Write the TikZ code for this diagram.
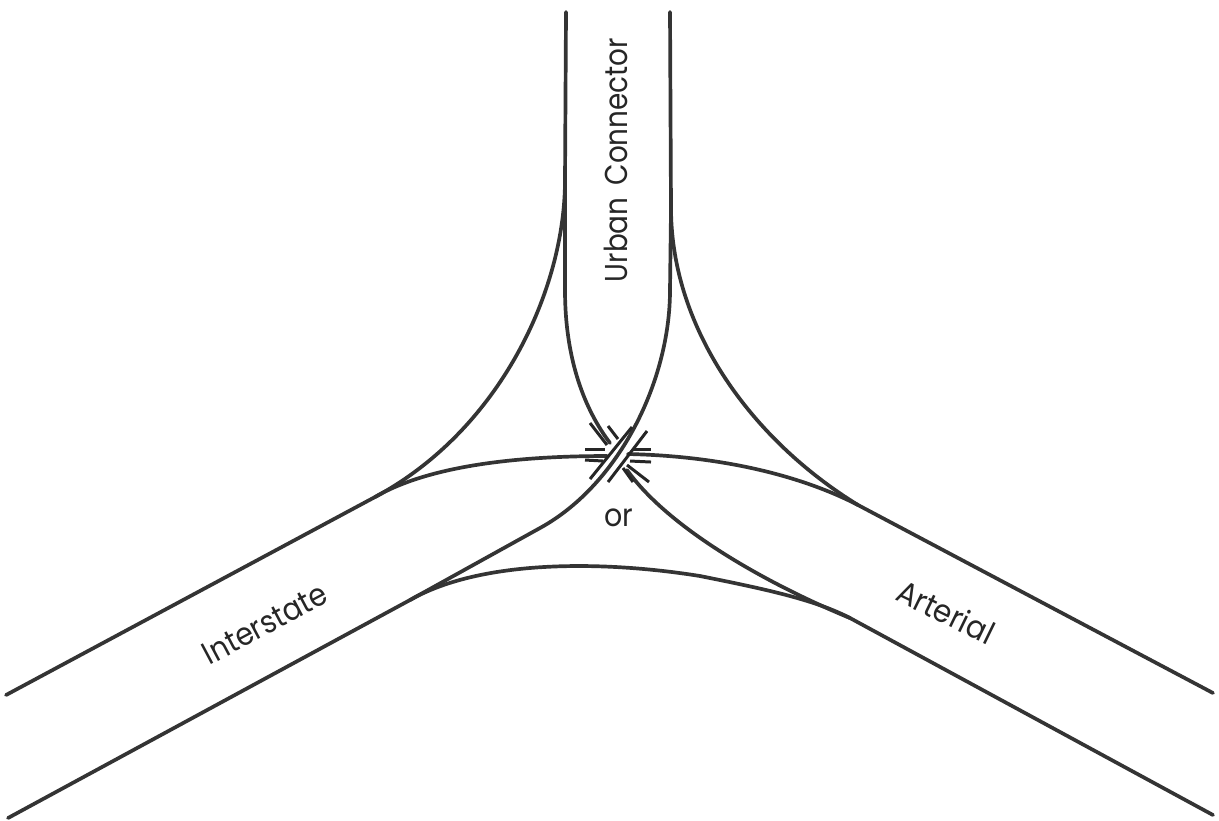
\documentclass[tikz,border=0pt]{standalone}
\usepackage{fontspec}
\setmainfont{Poppins}
\usepackage{xcolor}
\definecolor{roadInk}{RGB}{52,52,52}
\tikzset{
  roadline/.style={draw=roadInk,line width=1.05pt,line cap=round},
  ramptick/.style={draw=black!85,line width=0.85pt},
  roadlabel/.style={text=black!85,font=\fontsize{9pt}{11pt}\selectfont,inner sep=0pt}
}
\begin{document}
\begin{tikzpicture}[x=0.01cm,y=-0.01cm]
\useasboundingbox (0,0) rectangle (1219,820);
% road edges
\draw[roadline] (566,12) -- (565,180) .. controls (565,290) and (500,430) .. (375,497) -- (6,695);
\draw[roadline] (670,12) -- (671,210) .. controls (672,330) and (752,440) .. (858,505) -- (1213,693);
\draw[roadline] (565,180) -- (565,290) .. controls (565,360) and (585,410) .. (610,443);
\draw[roadline] (627,470) .. controls (670,530) and (770,585) .. (850,618) -- (1213,815);
\draw[roadline] (671,210) -- (670,290) .. controls (670,380) and (620,484) .. (540,528) -- (410,600) -- (8,818);
% connecting arcs
\draw[roadline] (375,497) .. controls (430,465) and (520,456) .. (607,456);
\draw[roadline] (628,454) .. controls (720,456) and (800,475) .. (858,505);
\draw[roadline] (410,600) .. controls (480,560) and (600,560) .. (700,576) .. controls (770,590) and (815,600) .. (850,618);
% crossing ticks
\foreach \xa/\ya/\xb/\yb in {590/423/607/445,608/426/618/439,632/427/590/479,647/431/608/482,
  585/449/605/449,585/460/603/461,632/449/651/449,630/461/651/462,623/468/633/482,627/465/649/482}
  \draw[ramptick] (\xa,\ya) -- (\xb,\yb);
% labels
\node[roadlabel,rotate=90,xscale=0.88] (urban) at (616,160) {Urban\, Connector};
\node[roadlabel,rotate=28,xscale=0.9] (interstate) at (265,624) {Interstate};
\node[roadlabel,rotate=-26,xscale=0.92] (arterial) at (946,612) {Arterial};
\node[roadlabel,xscale=0.9] (or) at (619,518) {or};
\end{tikzpicture}
\end{document}
